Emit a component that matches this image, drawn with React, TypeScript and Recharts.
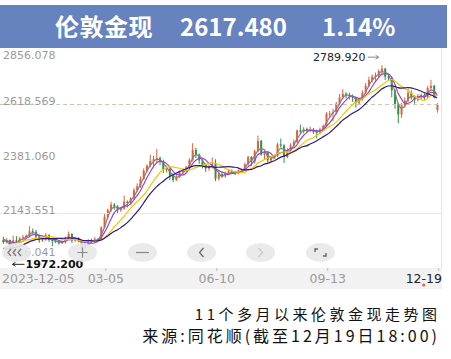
import React from "react";
import { ComposedChart, Bar, Line, XAxis, YAxis, ReferenceLine, ReferenceDot } from "recharts";

const RED = "#E5603A";
const GREEN = "#2E9444";
const BLUE = "#6683BF";
const MA_COLORS = ["#7A8580", "#9B46C9", "#F6C400", "#2C1B7A"];
const FONT = "DejaVu Sans";
const CJK = "'Noto Sans CJK SC', 'Noto Sans', sans-serif";

// y axis grid values, the dashed one is the reference close
const yTicks = [1906.041, 2143.551, 2381.06, 2618.569, 2856.078];
const refLevel = 2618.569;
const gridLevel = 2143.551;

// one candle = two trading days, 2023-12-05 .. 2024-12-19
const xTicks = [0, 31.5, 65.5, 99.5, 133.5];
const xTickLabels = ["2023-12-05", "03-05", "06-10", "09-13", "12-19"];

// moving averages, in candles (≈ MA5 / MA10 / MA20 / MA30)
const maPeriods = [3, 5, 10, 15];
const warmupCloses = [1973, 1980, 2006, 1983, 1987, 1970, 1950, 1946, 1963, 1981, 1978, 1993, 2003, 2045, 2029];

// [open, high, low, close]
const candles: number[][] = [
  [2029, 2042, 2011, 2019], [2019, 2036, 2013, 2028], [2028, 2030, 1972.2, 1985], [1985, 2047, 1980, 2027],
  [2027, 2045, 2015, 2020], [2020, 2042, 2016, 2035], [2035, 2050, 2028, 2040], [2040, 2052, 2033, 2047],
  [2047, 2088, 2042, 2066], [2066, 2078, 2055, 2064], [2064, 2072, 2035, 2043], [2043, 2050, 2016, 2027],
  [2027, 2040, 2020, 2030], [2030, 2058, 2024, 2049], [2049, 2054, 2020, 2028], [2028, 2036, 2001, 2023],
  [2023, 2035, 2015, 2022], [2022, 2028, 2008, 2014], [2014, 2026, 2010, 2018], [2018, 2042, 2012, 2037],
  [2037, 2065, 2031, 2054], [2054, 2058, 2015, 2025], [2025, 2042, 2020, 2035], [2035, 2040, 2018, 2025],
  [2025, 2030, 1985, 1992], [1992, 2010, 1984, 2004], [2004, 2032, 2000, 2024], [2021, 2035, 2016, 2024],
  [2024, 2041, 2019, 2031], [2031, 2037, 2024, 2030], [2030, 2088, 2026, 2083], [2083, 2141, 2080, 2128],
  [2128, 2165, 2118, 2159], [2159, 2195, 2150, 2182], [2182, 2189, 2160, 2174], [2174, 2180, 2146, 2158],
  [2158, 2172, 2150, 2165], [2165, 2222, 2160, 2195], [2195, 2200, 2170, 2190], [2190, 2215, 2185, 2210],
  [2210, 2254, 2205, 2245], [2245, 2275, 2240, 2262], [2262, 2305, 2255, 2295], [2295, 2340, 2290, 2330],
  [2330, 2358, 2322, 2352], [2352, 2400, 2345, 2372], [2372, 2395, 2350, 2380], [2380, 2425, 2365, 2385],
  [2385, 2392, 2355, 2372], [2372, 2378, 2320, 2335], [2335, 2352, 2322, 2338], [2338, 2345, 2290, 2310],
  [2310, 2318, 2280, 2290], [2290, 2312, 2285, 2303], [2303, 2330, 2298, 2323], [2323, 2340, 2315, 2330],
  [2330, 2352, 2322, 2345], [2345, 2385, 2340, 2376], [2376, 2450, 2370, 2420], [2420, 2430, 2385, 2400],
  [2400, 2405, 2360, 2375], [2375, 2380, 2340, 2355], [2355, 2362, 2325, 2340], [2340, 2356, 2330, 2348],
  [2348, 2388, 2340, 2360], [2360, 2380, 2285, 2295], [2295, 2322, 2288, 2315], [2315, 2328, 2298, 2305],
  [2305, 2326, 2300, 2320], [2320, 2338, 2312, 2328], [2328, 2336, 2315, 2322], [2322, 2330, 2310, 2318],
  [2318, 2336, 2314, 2330], [2330, 2340, 2320, 2333], [2333, 2365, 2328, 2358], [2358, 2395, 2352, 2390],
  [2390, 2394, 2352, 2370], [2370, 2422, 2362, 2415], [2415, 2483, 2410, 2460], [2460, 2465, 2395, 2400],
  [2400, 2418, 2380, 2410], [2410, 2415, 2365, 2375], [2375, 2392, 2370, 2385], [2385, 2400, 2380, 2395],
  [2395, 2452, 2390, 2445], [2445, 2470, 2430, 2440], [2440, 2445, 2364, 2390], [2390, 2428, 2384, 2420],
  [2420, 2450, 2414, 2440], [2440, 2466, 2432, 2455], [2455, 2510, 2450, 2505], [2505, 2531, 2490, 2500],
  [2500, 2520, 2492, 2512], [2512, 2518, 2495, 2503], [2503, 2522, 2498, 2510], [2510, 2516, 2490, 2500],
  [2500, 2510, 2471, 2495], [2495, 2518, 2488, 2510], [2510, 2532, 2505, 2525], [2525, 2585, 2520, 2578],
  [2578, 2590, 2560, 2580], [2580, 2600, 2546, 2585], [2585, 2630, 2575, 2622], [2622, 2665, 2615, 2650],
  [2650, 2685, 2640, 2665], [2665, 2672, 2645, 2660], [2660, 2670, 2640, 2655], [2655, 2662, 2630, 2648],
  [2648, 2652, 2605, 2625], [2625, 2648, 2615, 2640], [2640, 2680, 2635, 2670], [2670, 2712, 2664, 2700],
  [2700, 2740, 2695, 2725], [2725, 2750, 2715, 2740], [2740, 2758, 2722, 2745], [2745, 2772, 2738, 2765],
  [2765, 2789.92, 2752, 2775], [2775, 2778, 2725, 2740], [2740, 2752, 2722, 2735], [2735, 2740, 2650, 2680],
  [2680, 2685, 2600, 2620], [2620, 2625, 2536, 2575], [2575, 2625, 2560, 2615], [2615, 2650, 2605, 2635],
  [2635, 2690, 2628, 2670], [2670, 2680, 2640, 2650], [2650, 2660, 2622, 2640], [2640, 2665, 2632, 2655],
  [2655, 2668, 2640, 2660], [2660, 2670, 2638, 2650], [2650, 2700, 2645, 2690], [2690, 2726, 2680, 2700],
  [2700, 2705, 2645, 2650], [2595, 2625, 2583, 2617.48],
];

const allCloses = [...warmupCloses, ...candles.map((c) => c[3])];
const rows = candles.map(([o, h, l, c], i) => {
  const row: any = { i, o, h, l, c, range: [l, h] };
  maPeriods.forEach((p, k) => {
    const end = warmupCloses.length + i + 1;
    const win = allCloses.slice(Math.max(0, end - p), end);
    row["ma" + k] = win.reduce((s, v) => s + v, 0) / win.length;
  });
  return row;
});

let hiIdx = 0;
let loIdx = 0;
candles.forEach((c, i) => {
  if (c[1] > candles[hiIdx][1]) hiIdx = i;
  if (c[2] < candles[loIdx][2]) loIdx = i;
});

function Candle(props: any) {
  const { x, y, width, height, payload } = props;
  const { o, h, l, c } = payload;
  const top = Math.min(y, y + height);
  const span = Math.abs(height);
  const px = (v: number) => top + ((h - v) / (h - l)) * span;
  const cx = x + width / 2;
  const color = c >= o ? RED : GREEN;
  const b1 = px(Math.max(o, c));
  const b2 = px(Math.min(o, c));
  return (
    <g>
      <line x1={cx} x2={cx} y1={top} y2={top + span} stroke={color} strokeWidth={1} />
      <rect x={cx - 1} y={b1} width={2} height={Math.max(1, b2 - b1)} fill={color} />
    </g>
  );
}

// top label sits under its line, the bottom one is lifted above the low mark
function YLabel({ viewBox, value, pos }: any) {
  const y = viewBox ? viewBox.y : 0;
  const dy = pos === "top" ? 8.5 : pos === "bottom" ? -12 : 1;
  return (
    <text x={3} y={y + dy} fill="#9A9A9A" fontSize={11} fontFamily={FONT}>
      {value.toFixed(3)}
    </text>
  );
}

function XTick({ x, y, payload }: any) {
  const i = xTicks.indexOf(payload.value);
  const first = i === 0;
  const last = i === xTicks.length - 1;
  return (
    <g>
      {!first && <line x1={x} x2={x} y1={y} y2={y + 3} stroke="#BBBBBB" />}
      <text
        x={first ? 2 : last ? 442 : x}
        y={y + 15}
        textAnchor={first ? "start" : last ? "end" : "middle"}
        fill={last ? "#222" : "#9A9A9A"}
        fontSize={12.5}
        fontFamily={FONT}
      >
        {xTickLabels[i]}
      </text>
      {last && <circle cx={x - 15} cy={y + 17} r={1.5} fill={RED} />}
    </g>
  );
}

function HighMark({ cx, cy }: any) {
  const ay = cy - 8;
  return (
    <g>
      <text x={cx - 16} y={cy - 4} textAnchor="end" fill="#222" fontSize={11} fontFamily={FONT}>
        {candles[hiIdx][1].toFixed(3)}
      </text>
      <line x1={cx - 14} x2={cx - 3} y1={ay} y2={ay} stroke="#888" />
      <path d={`M${cx - 6},${ay - 2} L${cx - 3},${ay} L${cx - 6},${ay + 2}`} fill="none" stroke="#888" />
    </g>
  );
}

function LowMark({ cx, cy }: any) {
  const ay = cy + 11.5;
  return (
    <g>
      <line x1={cx + 3} x2={cx + 15} y1={ay} y2={ay} stroke="#222" />
      <path d={`M${cx + 6},${ay - 2} L${cx + 3},${ay} L${cx + 6},${ay + 2}`} fill="none" stroke="#222" />
      <text x={cx + 16} y={cy + 15.5} fill="#111" fontSize={11} fontWeight={600} fontFamily={FONT}>
        {candles[loIdx][2].toFixed(3)}
      </text>
    </g>
  );
}

function Btn({ cx, children }: { cx: number; children: React.ReactNode }) {
  return (
    <div
      style={{
        position: "absolute", left: cx - 14.5, top: 243, width: 29, height: 19,
        borderRadius: "50%", background: "rgba(232,232,232,0.9)",
      }}
    >
      <svg width={29} height={19} style={{ display: "block" }}>{children}</svg>
    </div>
  );
}

export default function App() {
  return (
    <div style={{ position: "absolute", left: 0, top: 0, width: 451, height: 359, background: "#fff", overflow: "hidden" }}>
      <div style={{ position: "absolute", left: 0, top: 5, width: 447, height: 43, background: BLUE }} />
      <div style={{ position: "absolute", top: 11, left: 0, width: 447, color: "#fff", fontFamily: CJK, fontWeight: 700, fontSize: 24, lineHeight: "30px" }}>
        <span style={{ position: "absolute", left: 55, letterSpacing: 0.5 }}>伦敦金现</span>
        <span style={{ position: "absolute", left: 180 }}>2617.480</span>
        <span style={{ position: "absolute", left: 322 }}>1.14%</span>
      </div>
      <div style={{ position: "absolute", left: 0, top: 268, width: 442, height: 21, background: "#F2F2F2" }} />
      <div style={{ position: "absolute", left: 441, top: 48, width: 1, height: 220, background: "#E6E6E6" }} />
      <div style={{ position: "absolute", left: 0, top: 0 }}>
        <ComposedChart width={442} height={290} data={rows} margin={{ top: 50, right: 1, left: 0, bottom: 0 }}>
          <XAxis
            dataKey="i"
            type="number"
            domain={[-0.92, 134.2]}
            ticks={xTicks}
            interval={0}
            allowDataOverflow
            axisLine={false}
            tickLine={false}
            tickSize={0}
            tickMargin={0}
            height={22}
            tick={XTick}
          />
          <YAxis domain={[yTicks[0], yTicks[yTicks.length - 1]]} allowDataOverflow hide />
          {yTicks.map((v, k) => (
            <ReferenceLine
              key={v}
              y={v}
              stroke={v === refLevel ? "#CFC6B0" : v === gridLevel ? "#E8E8E8" : "none"}
              strokeDasharray={v === refLevel ? "4 3" : undefined}
              label={<YLabel value={v} pos={k === 0 ? "bottom" : k === yTicks.length - 1 ? "top" : "mid"} />}
            />
          ))}
          <Bar dataKey="range" barSize={2} shape={Candle} isAnimationActive={false} />
          {maPeriods.map((p, k) => (
            <Line
              key={p}
              type="monotone"
              dataKey={"ma" + k}
              stroke={MA_COLORS[k]}
              strokeWidth={1.2}
              dot={false}
              isAnimationActive={false}
            />
          ))}
          <ReferenceDot x={hiIdx} y={candles[hiIdx][1]} r={0} shape={HighMark} />
          <ReferenceDot x={loIdx} y={candles[loIdx][2]} r={0} shape={LowMark} />
        </ComposedChart>
      </div>
      <Btn cx={16}>
        <path d="M9,6 L6,9.5 L9,13 M14,6 L11,9.5 L14,13 M19,6 L16,9.5 L19,13" fill="none" stroke="#777" strokeWidth={1.2} />
      </Btn>
      <Btn cx={82}>
        <path d="M14.5,4.5 L14.5,14.5 M9.5,9.5 L19.5,9.5" stroke="#888" strokeWidth={1.2} />
      </Btn>
      <Btn cx={142}>
        <path d="M8,9.5 L21,9.5" stroke="#888" strokeWidth={1.2} />
      </Btn>
      <Btn cx={201}>
        <path d="M16.5,5 L12.5,9.5 L16.5,14" fill="none" stroke="#666" strokeWidth={1.2} />
      </Btn>
      <Btn cx={260}>
        <path d="M12.5,5 L16.5,9.5 L12.5,14" fill="none" stroke="#C8C8C8" strokeWidth={1.2} />
      </Btn>
      <Btn cx={320}>
        <path d="M9,9 L9,6 L12,6 M20,10 L20,13 L17,13" fill="none" stroke="#666" strokeWidth={1.4} />
      </Btn>
      <div style={{ position: "absolute", right: 10.5, top: 305, fontFamily: CJK, fontSize: 15, letterSpacing: 3.5, lineHeight: "18px", color: "#111", whiteSpace: "nowrap" }}>
        11个多月以来伦敦金现走势图
      </div>
      <div style={{ position: "absolute", right: 11, top: 326, fontFamily: CJK, fontSize: 16, letterSpacing: 3, lineHeight: "18px", color: "#111", whiteSpace: "nowrap" }}>
        来源:同花顺(截至12月19日18:00)
      </div>
    </div>
  );
}
